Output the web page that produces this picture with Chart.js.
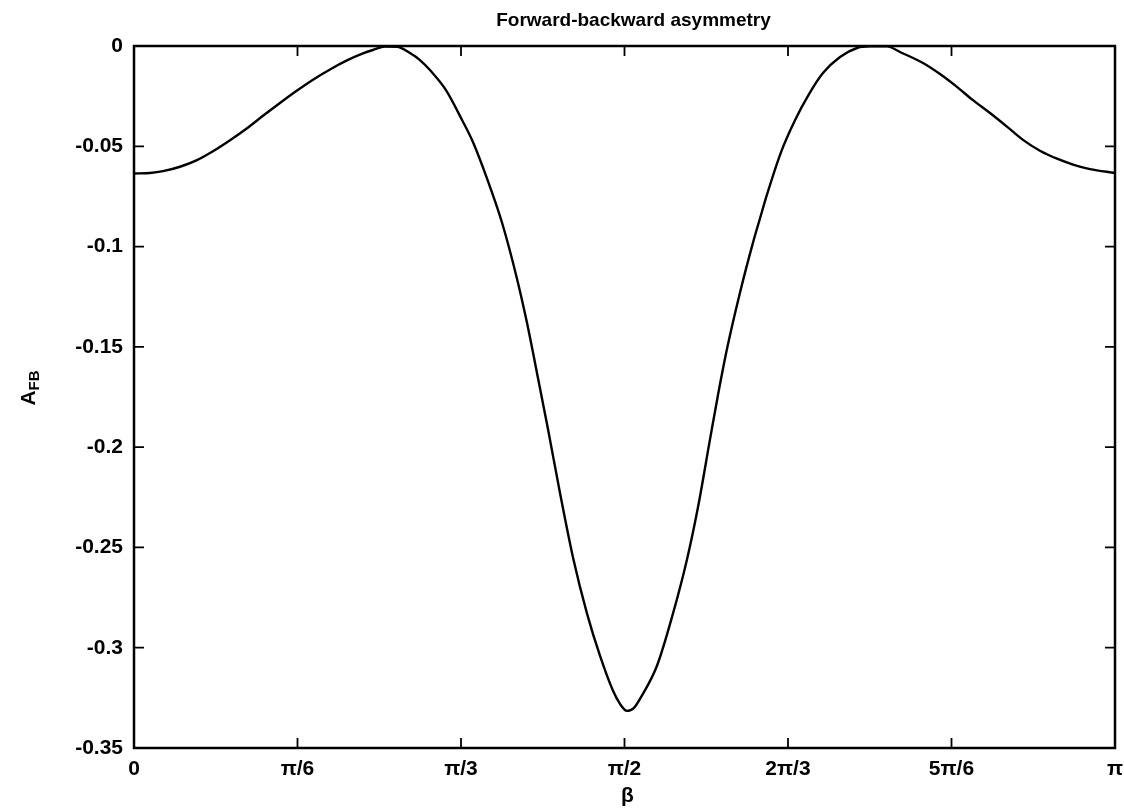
<!DOCTYPE html>
<html>
<head>
<meta charset="utf-8">
<script src="https://cdn.jsdelivr.net/npm/chart.js@4/dist/chart.umd.min.js"></script>
<style>
  html, body { margin: 0; padding: 0; background: #fff; }
  #wrap { width: 1124px; height: 810px; position: relative; }
</style>
</head>
<body>
<div id="wrap"><canvas id="c" width="1124" height="810"></canvas></div>
<script>
// beta in units of pi
const betaOverPi = [
  0.0000, 0.0163, 0.0296, 0.0469, 0.0642, 0.0805, 0.0979, 0.1152, 0.1315, 0.1488,
  0.1662, 0.1825, 0.1998, 0.2171, 0.2334, 0.2436, 0.2559, 0.2681, 0.2813, 0.2915,
  0.3017, 0.3180, 0.3344, 0.3456, 0.3598, 0.3751, 0.3904, 0.4006, 0.4088,
  0.4220, 0.4343, 0.4475, 0.4618, 0.4750, 0.4883, 0.4954, 0.5025, 0.5097, 0.5158,
  0.5331, 0.5494, 0.5637, 0.5749, 0.5872, 0.5953, 0.6045, 0.6177, 0.6310, 0.6381,
  0.6453, 0.6595, 0.6738, 0.6881, 0.7023, 0.7197, 0.7370, 0.7503, 0.7676, 0.7808,
  0.8043, 0.8216, 0.8389, 0.8552, 0.8726, 0.8899, 0.9062, 0.9235, 0.9409, 0.9572,
  0.9745, 1.0000
];
const afb = [
  -0.0636, -0.0633, -0.0624, -0.0602, -0.0569, -0.0525, -0.0470, -0.0410, -0.0348, -0.0284,
  -0.0222, -0.0168, -0.0117, -0.0072, -0.0037, -0.0020, -0.0003, -0.0004, -0.0035, -0.0070,
  -0.0120, -0.0220, -0.0369, -0.0480, -0.0660, -0.0880, -0.1160, -0.1380, -0.1580,
  -0.1910, -0.2230, -0.2550, -0.2830, -0.3040, -0.3215, -0.3280, -0.3315, -0.3300, -0.3255,
  -0.3090, -0.2830, -0.2560, -0.2300, -0.1960, -0.1740, -0.1510, -0.1230, -0.0980, -0.0860,
  -0.0740, -0.0530, -0.0370, -0.0240, -0.0135, -0.0055, -0.0010, -0.0002, -0.0002, -0.0030,
  -0.0085, -0.0140, -0.0204, -0.0270, -0.0334, -0.0402, -0.0468, -0.0522, -0.0562, -0.0591,
  -0.0614, -0.0633
];
const xTickValues = [0, 1/6, 2/6, 3/6, 4/6, 5/6, 1];
const xTickLabels = ['0', 'π/6', 'π/3', 'π/2', '2π/3', '5π/6', 'π'];
const yTickValues = [0, -0.05, -0.1, -0.15, -0.2, -0.25, -0.3, -0.35];
const yTickLabels = ['0', '-0.05', '-0.1', '-0.15', '-0.2', '-0.25', '-0.3', '-0.35'];
const chartTitle = 'Forward-backward asymmetry';
const xTitle = 'β';
const yTitleMain = 'A';
const yTitleSub = 'FB';

const FONT = '"Liberation Sans", Arial, sans-serif';

const points = betaOverPi.map((b, i) => ({ x: b, y: afb[i] }));

const framePlugin = {
  id: 'frame',
  afterDraw(chart) {
    const ctx = chart.ctx;
    const a = chart.chartArea;
    const xs = chart.scales.x, ys = chart.scales.y;
    ctx.save();
    ctx.strokeStyle = '#000';
    ctx.lineWidth = 2.5;
    ctx.strokeRect(a.left, a.top, a.right - a.left, a.bottom - a.top);
    const tl = 10;
    ctx.lineWidth = 1.8;
    ctx.beginPath();
    xTickValues.forEach(v => {
      const px = xs.getPixelForValue(v);
      ctx.moveTo(px, a.bottom); ctx.lineTo(px, a.bottom - tl);
      ctx.moveTo(px, a.top); ctx.lineTo(px, a.top + tl);
    });
    yTickValues.forEach(v => {
      const py = ys.getPixelForValue(v);
      ctx.moveTo(a.left, py); ctx.lineTo(a.left + tl, py);
      ctx.moveTo(a.right, py); ctx.lineTo(a.right - tl, py);
    });
    ctx.stroke();

    ctx.fillStyle = '#000';
    // title
    ctx.font = 'bold 19px ' + FONT;
    ctx.textAlign = 'center';
    ctx.textBaseline = 'alphabetic';
    ctx.fillText(chartTitle, (a.left + a.right) / 2 + 9, 26);
    // x title
    ctx.font = 'bold 21px ' + FONT;
    ctx.textBaseline = 'middle';
    ctx.fillText(xTitle, (a.left + a.right) / 2 + 3, 796);
    // y title with subscript
    ctx.translate(35, 388);
    ctx.rotate(-Math.PI / 2);
    ctx.textAlign = 'left';
    ctx.textBaseline = 'alphabetic';
    ctx.font = 'bold 21px ' + FONT;
    const wA = ctx.measureText(yTitleMain).width;
    ctx.font = 'bold 15px ' + FONT;
    const wS = ctx.measureText(yTitleSub).width;
    const start = -(wA + wS) / 2;
    ctx.font = 'bold 21px ' + FONT;
    ctx.fillText(yTitleMain, start, 0);
    ctx.font = 'bold 15px ' + FONT;
    ctx.fillText(yTitleSub, start + wA, 4);
    ctx.restore();
  }
};

new Chart(document.getElementById('c'), {
  type: 'line',
  data: {
    datasets: [{
      data: points,
      borderColor: '#000',
      borderWidth: 2.4,
      pointRadius: 0,
      fill: false,
      cubicInterpolationMode: 'monotone'
    }]
  },
  options: {
    responsive: false,
    animation: false,
    devicePixelRatio: 1,
    layout: { padding: { top: 46, right: 9, left: 0, bottom: 0 } },
    plugins: { legend: { display: false }, title: { display: false }, tooltip: { enabled: false } },
    scales: {
      x: {
        type: 'linear',
        min: 0, max: 1,
        grid: { display: false, drawTicks: false },
        border: { display: false },
        afterBuildTicks(scale) { scale.ticks = xTickValues.map(v => ({ value: v })); },
        afterFit(scale) {
          scale.height = 62;
          scale.paddingLeft = 0; scale.paddingRight = 0;
        },
        ticks: {
          padding: 9,
          color: '#000',
          font: { family: FONT, size: 21, weight: 'bold' },
          maxRotation: 0,
          autoSkip: false,
          callback(value) {
            const i = xTickValues.findIndex(v => Math.abs(v - value) < 1e-9);
            return i >= 0 ? xTickLabels[i] : '';
          }
        }
      },
      y: {
        type: 'linear',
        min: -0.35, max: 0,
        grid: { display: false, drawTicks: false },
        border: { display: false },
        afterBuildTicks(scale) { scale.ticks = yTickValues.map(v => ({ value: v })); },
        afterFit(scale) {
          scale.width = 134;
          scale.paddingTop = 0; scale.paddingBottom = 0;
        },
        ticks: {
          padding: 11,
          color: '#000',
          font: { family: FONT, size: 21, weight: 'bold' },
          autoSkip: false,
          callback(value) {
            const i = yTickValues.findIndex(v => Math.abs(v - value) < 1e-9);
            return i >= 0 ? yTickLabels[i] : '';
          }
        }
      }
    }
  },
  plugins: [framePlugin]
});
</script>
</body>
</html>
